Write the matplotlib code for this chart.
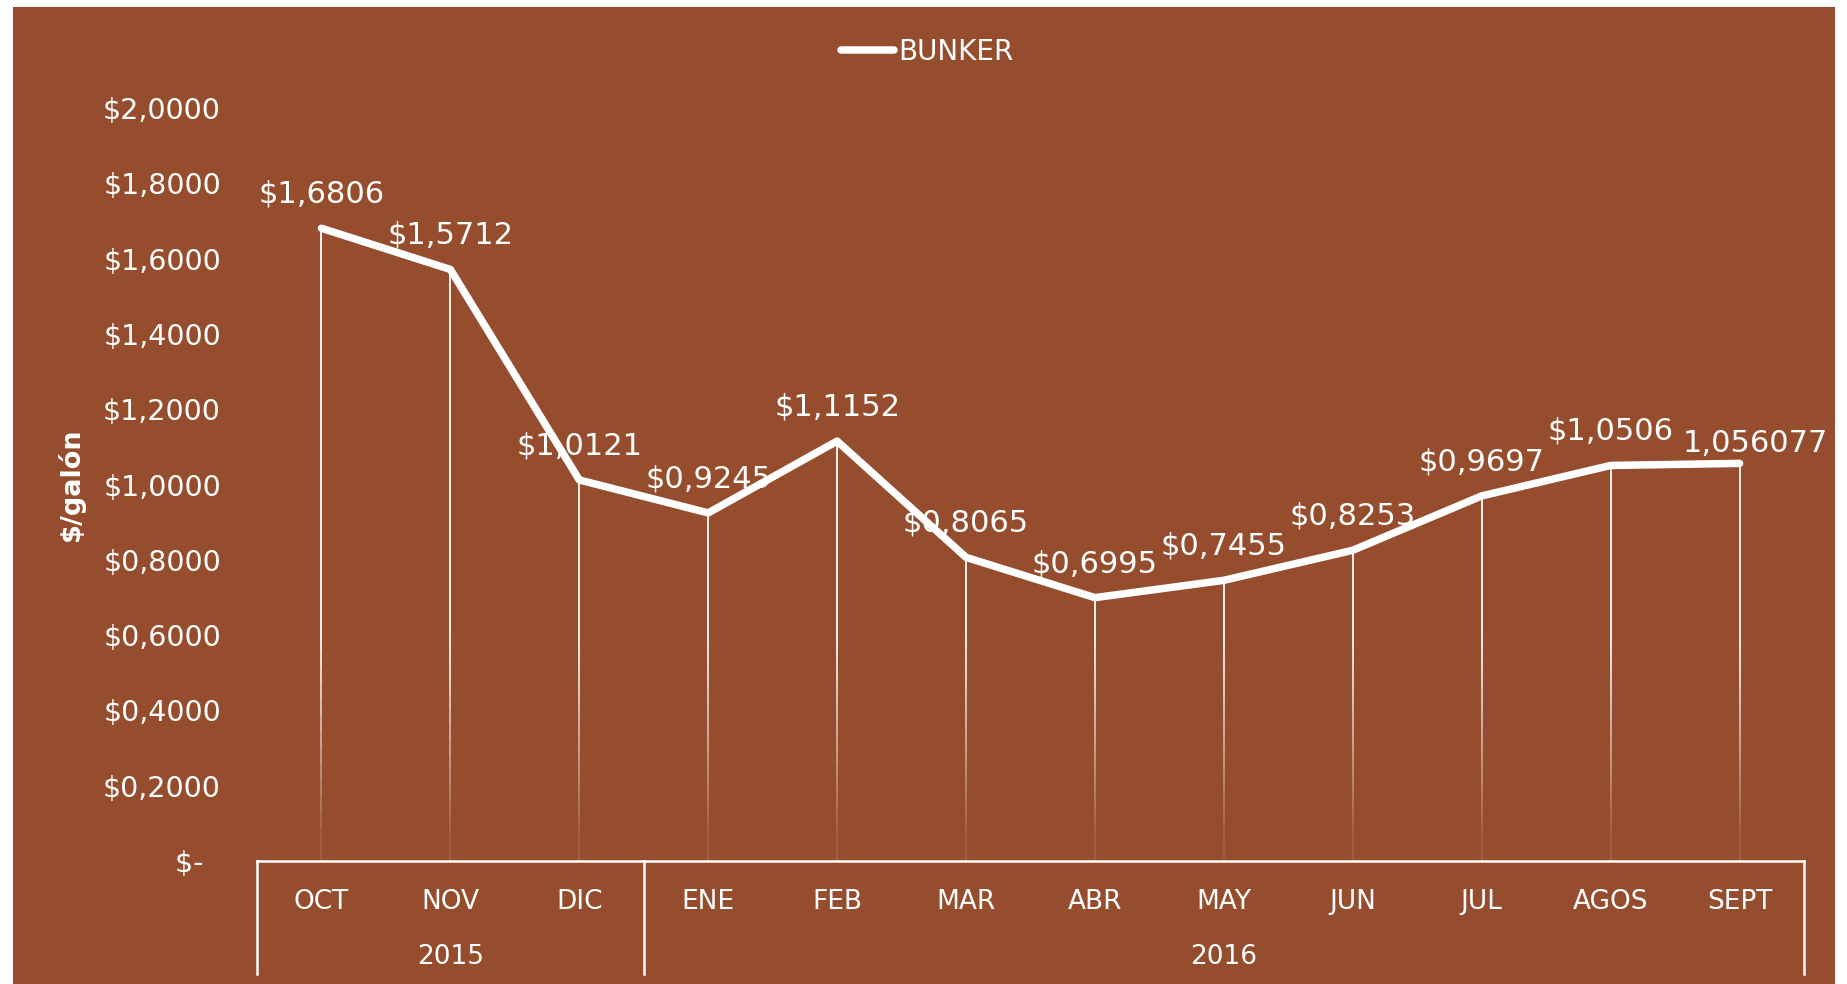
import numpy as np
import matplotlib
matplotlib.use('Agg')
import matplotlib.pyplot as plt
import matplotlib.transforms as mtransforms
from matplotlib.collections import LineCollection
from matplotlib.patches import Rectangle
from matplotlib.ticker import FuncFormatter

# data
months = ['OCT', 'NOV', 'DIC', 'ENE', 'FEB', 'MAR', 'ABR', 'MAY', 'JUN', 'JUL', 'AGOS', 'SEPT']
years = ['2015', '2016']
year_sizes = [3, 9]
bunker = [1.6806, 1.5712, 1.0121, 0.9245, 1.1152, 0.8065, 0.6995, 0.7455, 0.8253, 0.9697, 1.0506, 1.056077]
labels = ['$1,6806', '$1,5712', '$1,0121', '$0,9245', '$1,1152', '$0,8065', '$0,6995',
          '$0,7455', '$0,8253', '$0,9697', '$1,0506', '1,056077']

BROWN = '#954D2D'
W, H = 1847, 984
fig = plt.figure(figsize=(W / 100, H / 100), dpi=100, facecolor='white')
bg = Rectangle((13 / W, 0), (1835 - 13) / W, 1 - 7 / H, transform=fig.transFigure,
               facecolor=BROWN, edgecolor='none', zorder=-10)
fig.add_artist(bg)

ax = fig.add_axes([257 / W, (H - 861) / H, (1804 - 257) / W, (861 - 108) / H])
ax.set_facecolor('none')
x = np.arange(len(months))
ax.set_xlim(-0.5, len(months) - 0.5)
ax.set_ylim(0, 2.0)

# drop lines fading toward the bottom
segs, cols = [], []
for xi, yi in zip(x, bunker):
    edges = np.linspace(0, yi, 40)
    for a, b in zip(edges[:-1], edges[1:]):
        segs.append([(xi, a), (xi, b)])
        alpha = float(np.clip((a + b) / 2 / 0.6, 0.1, 1.0))
        cols.append((1, 1, 1, alpha))
ax.add_collection(LineCollection(segs, colors=cols, linewidths=1.3, zorder=2))

ax.plot(x, bunker, color='white', lw=5.4, solid_capstyle='round', solid_joinstyle='round',
        zorder=3, label='BUNKER')

for i, (xi, yi, lab) in enumerate(zip(x, bunker, labels)):
    off = (0, 24.5)
    if i == len(x) - 1:
        off = (11.5, 14.5)
    ax.annotate(lab, (xi, yi), xytext=off, textcoords='offset points', ha='center', va='center',
                color='white', fontsize=22, zorder=4)

# y axis
def fmt(v, pos):
    if abs(v) < 1e-9:
        return '$-  '
    return '$' + ('%.4f' % v).replace('.', ',')

ax.set_yticks(np.arange(0, 2.01, 0.2))
ax.yaxis.set_major_formatter(FuncFormatter(fmt))
ax.tick_params(axis='y', length=0, pad=26, labelsize=20.5, labelcolor='white')
ax.set_ylabel('$/galón', color='white', fontsize=19.5, fontweight='bold')
ax.yaxis.set_label_coords(-0.111, 0.5)

# x axis: months + years box
ax.set_xticks(x)
ax.set_xticklabels(months)
ax.tick_params(axis='x', length=0, pad=20, labelsize=19, labelcolor='white')
for s in ['left', 'right', 'top']:
    ax.spines[s].set_visible(False)
ax.spines['bottom'].set_color('white')
ax.spines['bottom'].set_linewidth(1.8)

trans = mtransforms.blended_transform_factory(ax.transData, ax.transAxes)
box_bottom = -(974 - 861) / (861 - 108)
bounds = [-0.5]
for n in year_sizes:
    bounds.append(bounds[-1] + n)
for b in bounds:
    ax.plot([b, b], [0, box_bottom], transform=trans, color='white', lw=1.8, clip_on=False)
for yr, a, b in zip(years, bounds[:-1], bounds[1:]):
    ax.text((a + b) / 2, -(957 - 861) / (861 - 108), yr, transform=trans, ha='center', va='center',
            color='white', fontsize=19)

fig.legend(loc='center', bbox_to_anchor=(0.502, 0.947), frameon=False, fontsize=20,
           handlelength=1.9, handletextpad=0.15, labelcolor='white')

fig.savefig('out.png', dpi=100, facecolor='white')
